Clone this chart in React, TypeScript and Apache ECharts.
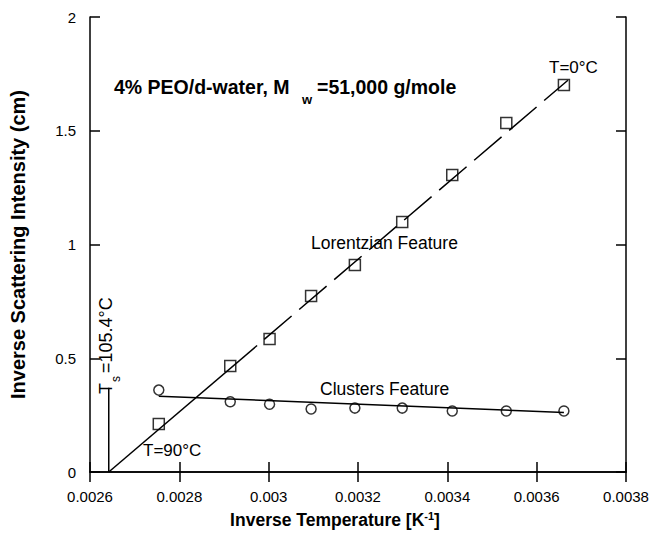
import React, { useEffect, useRef } from "react";
import * as echarts from "echarts";

// ---- data ----
const invT = [0.002754, 0.002914, 0.003002, 0.003095, 0.003193, 0.003299, 0.003411, 0.003532, 0.003661];
const lorentzian = [0.211, 0.466, 0.585, 0.774, 0.91, 1.099, 1.305, 1.534, 1.701];
const clusters = [0.36, 0.309, 0.298, 0.277, 0.281, 0.281, 0.268, 0.268, 0.268];

// fitted lines
const lorentzSolidX = [0.002642, 0.002974];
const lorentzSolidY = [0, 0.556];
const lorentzDashX = [0.00299, 0.00367];
const lorentzDashY = [0.583, 1.722];
const clusterFitX = [0.002754, 0.003661];
const clusterFitY = [0.333, 0.262];
const tsLineX = [0.002642, 0.002642];
const tsLineY = [0, 0.37];

const xTickLabels = ["0.0026", "0.0028", "0.003", "0.0032", "0.0034", "0.0036", "0.0038"];
const yTickLabels = ["0", "0.5", "1", "1.5", "2"];
const X_MIN = 0.0026, X_MAX = 0.0038, X_STEP = 0.0002;
const Y_MIN = 0, Y_MAX = 2, Y_STEP = 0.5;

const FONT = "'Liberation Sans', Arial, Helvetica, sans-serif";

const pairs = (xs: number[], ys: number[]) => xs.map((x, i) => [x, ys[i]]);

export default function App() {
  const ref = useRef<HTMLDivElement>(null);
  useEffect(() => {
    if (!ref.current) return;
    const chart = echarts.init(ref.current, null, { renderer: "svg" });
    const axisLine = { show: true, lineStyle: { color: "#000", width: 1.5 } };
    const axisTick = { show: true, inside: true, length: 10, lineStyle: { color: "#000", width: 1.5 } };
    const txt = (text: string, x: number, y: number, size: number, bold = false) => ({
      type: "text",
      x,
      y,
      style: {
        text,
        fill: "#000",
        font: `${bold ? "bold " : ""}${size}px ${FONT}`,
        textVerticalAlign: "middle",
        verticalAlign: "middle",
      },
    });
    chart.setOption({
      animation: false,
      backgroundColor: "#fff",
      textStyle: { fontFamily: FONT },
      grid: { left: 90, right: 27, top: 17, bottom: 72, show: false },
      xAxis: [
        {
          type: "value",
          min: X_MIN,
          max: X_MAX,
          interval: X_STEP,
          position: "bottom",
          axisLine,
          axisTick,
          splitLine: { show: false },
          axisLabel: {
            color: "#000",
            fontSize: 15,
            fontFamily: FONT,
            margin: 17,
            formatter: (v: number) => xTickLabels[Math.round((v - X_MIN) / X_STEP)] ?? "",
          },
          name: "Inverse Temperature [K{sup|-1}]",
          nameLocation: "middle",
          nameGap: 38,
          nameTextStyle: {
            color: "#000",
            fontSize: 17.5,
            fontWeight: "bold",
            fontFamily: FONT,
            lineHeight: 20,
            padding: [0, 46, 0, 0],
            rich: {
              sup: { fontSize: 11, fontWeight: "bold", verticalAlign: "top", lineHeight: 11, color: "#000", fontFamily: FONT },
            },
          },
        },
        {
          type: "value",
          min: X_MIN,
          max: X_MAX,
          interval: X_STEP,
          position: "top",
          axisLine,
          axisTick,
          splitLine: { show: false },
          axisLabel: { show: false },
        },
      ],
      yAxis: [
        {
          type: "value",
          min: Y_MIN,
          max: Y_MAX,
          interval: Y_STEP,
          position: "left",
          axisLine,
          axisTick,
          splitLine: { show: false },
          axisLabel: {
            color: "#000",
            fontSize: 15,
            fontFamily: FONT,
            margin: 14,
            formatter: (v: number) => yTickLabels[Math.round((v - Y_MIN) / Y_STEP)] ?? "",
          },
          name: "Inverse Scattering Intensity (cm)",
          nameLocation: "middle",
          nameGap: 62,
          nameTextStyle: { color: "#000", fontSize: 20, fontWeight: "bold", fontFamily: FONT },
        },
        {
          type: "value",
          min: Y_MIN,
          max: Y_MAX,
          interval: Y_STEP,
          position: "right",
          axisLine,
          axisTick,
          splitLine: { show: false },
          axisLabel: { show: false },
        },
      ],
      series: [
        {
          type: "line",
          data: pairs(lorentzSolidX, lorentzSolidY),
          symbol: "none",
          lineStyle: { color: "#000", width: 1.5 },
          z: 2,
        },
        {
          type: "line",
          data: pairs(lorentzDashX, lorentzDashY),
          symbol: "none",
          lineStyle: { color: "#000", width: 1.5, type: [36, 10] },
          z: 2,
        },
        {
          type: "line",
          data: pairs(clusterFitX, clusterFitY),
          symbol: "none",
          lineStyle: { color: "#000", width: 1.5 },
          z: 2,
        },
        {
          type: "line",
          data: pairs(tsLineX, tsLineY),
          symbol: "none",
          lineStyle: { color: "#000", width: 1.5 },
          z: 2,
        },
        {
          type: "scatter",
          name: "Lorentzian Feature",
          data: pairs(invT, lorentzian),
          symbol: "rect",
          symbolSize: 11,
          itemStyle: { color: "rgba(0,0,0,0)", borderColor: "#000", borderWidth: 1.5 },
          z: 3,
        },
        {
          type: "scatter",
          name: "Clusters Feature",
          data: pairs(invT, clusters),
          symbol: "circle",
          symbolSize: 10,
          itemStyle: { color: "rgba(0,0,0,0)", borderColor: "#000", borderWidth: 1.5 },
          z: 3,
        },
      ],
      graphic: [
        txt("4% PEO/d-water, M", 114, 87, 19.5, true),
        txt("w", 302, 99, 13, true),
        txt("=51,000 g/mole", 317, 87, 19.5, true),
        txt("T=0°C", 549, 67, 17),
        txt("Lorentzian Feature", 311, 243, 17.5),
        txt("Clusters Feature", 320, 389, 17.5),
        txt("T=90°C", 143, 450, 17),
        {
          type: "group",
          x: 106,
          y: 394,
          rotation: Math.PI / 2,
          children: [
            txt("T", 0, 0, 18),
            txt("s", 12, 10, 12),
            txt("=105.4°C", 21, 0, 18),
          ],
        },
      ],
    });
    return () => chart.dispose();
  }, []);
  return (
    <div
      ref={ref}
      style={{ position: "fixed", left: 0, top: 0, width: 653, height: 544 }}
    />
  );
}
